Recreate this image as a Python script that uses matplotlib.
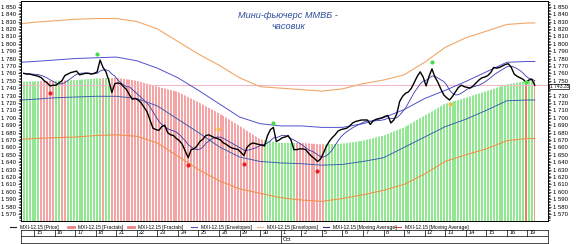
import numpy as np
import pandas as pd
import matplotlib
matplotlib.use("Agg")
import matplotlib.pyplot as plt
from matplotlib.patches import Polygon
from matplotlib.lines import Line2D
from matplotlib.ticker import MultipleLocator, FuncFormatter

plt.rcParams['font.family'] = ['Liberation Sans', 'DejaVu Sans']

# --- данные: часовые бары MXI-12.15 (14.09 - 19.10) ---
price = [
    1760, 1759, 1759, 1758,                          # 14
    1757, 1756, 1754, 1750, 1747, 1743, 1744,        # 15
    1744, 1747, 1750, 1757, 1759, 1761, 1762,        # 16
    1763, 1758, 1759, 1760, 1760, 1759, 1760,        # 17
    1762, 1778, 1768, 1762, 1750, 1734, 1746,        # 18
    1747, 1746, 1742, 1738, 1731, 1725, 1726,        # 21
    1724, 1720, 1714, 1708, 1697, 1686, 1684,        # 22
    1683, 1688, 1690, 1680, 1677, 1676, 1672,        # 23
    1669, 1664, 1655, 1646, 1657, 1658, 1662,        # 24
    1668, 1671, 1676, 1677, 1675, 1673, 1672,        # 25
    1670, 1666, 1664, 1661, 1659, 1658, 1657,        # 28
    1653, 1649, 1660, 1664, 1666, 1665, 1664,        # 29
    1663, 1662, 1676, 1684, 1687, 1668, 1670,        # 30
    1673, 1674, 1676, 1670, 1657, 1657, 1658,        # 1
    1658, 1657, 1652, 1648, 1645, 1641, 1644,        # 2
    1652, 1661, 1668, 1673, 1677, 1682, 1684,        # 5
    1685, 1686, 1689, 1693, 1695, 1696, 1697,        # 6
    1697, 1697, 1691, 1696, 1698, 1699, 1700,        # 7
    1702, 1703, 1693, 1697, 1705, 1722, 1729,        # 8
    1733, 1735, 1740, 1748, 1756, 1762, 1755,        # 9
    1743, 1756, 1766, 1755, 1748, 1739, 1731,        # 12
    1727, 1724, 1729, 1735, 1741, 1744, 1742,        # 13
    1741, 1740, 1743, 1747, 1751, 1754, 1755,        # 14
    1757, 1761, 1768, 1767, 1768, 1770, 1772,        # 15
    1773, 1768, 1759, 1756, 1754, 1752, 1748,        # 16
    1751, 1752, 1744,                                # 19
]

# цвет столбцов (зелёный / красный) сериями
bar_runs = [('g', 6), ('r', 5), ('g', 2), ('r', 2), ('g', 12), ('r', 1), ('g', 2),
            ('r', 52), ('g', 11), ('r', 10), ('g', 68), ('r', 1), ('g', 2), ('r', 1)]

# индикаторы по границам дней
ma_slow = [1749, 1749, 1750, 1751, 1753, 1754, 1750, 1742, 1735, 1721, 1706, 1689, 1671, 1666,
           1666, 1664, 1665, 1669, 1676, 1687, 1703, 1719, 1727, 1736, 1745, 1750, 1751]
env_blue_up = [1775, 1776, 1778, 1780, 1781, 1782, 1777, 1767, 1754, 1737, 1719, 1701, 1692, 1689,
               1689, 1687, 1687, 1692, 1700, 1711, 1726, 1737, 1749, 1762, 1775, 1776, 1776]
env_blue_lo = [1724, 1725, 1727, 1728, 1729, 1729, 1726, 1716, 1698, 1680, 1661, 1647, 1641, 1639,
               1638, 1636, 1637, 1641, 1646, 1660, 1674, 1688, 1698, 1710, 1723, 1724, 1724]
env_orange_up = [1827, 1829, 1831, 1833, 1834, 1834, 1830, 1820, 1803, 1786, 1771, 1754, 1742, 1740,
                 1738, 1736, 1739, 1746, 1751, 1758, 1775, 1795, 1808, 1817, 1826, 1828, 1828]
env_orange_lo = [1671, 1672, 1673, 1674, 1676, 1677, 1675, 1666, 1648, 1630, 1615, 1604, 1598, 1592,
                 1589, 1587, 1591, 1596, 1602, 1610, 1624, 1641, 1650, 1658, 1669, 1672, 1672]

# фракталы: номер бара, уровень
frac_up_idx = [25, 85, 139, 171]
frac_up_val = [1786, 1693, 1775, 1748]
frac_dn_idx = [9, 56, 75, 100]
frac_dn_val = [1733, 1636, 1638, 1628]
frac_y_idx = [66, 145]
frac_y_val = [1685, 1718]

last_price = 1743.35
days = ['15', '16', '17', '18', '21', '22', '23', '24', '25', '28', '29', '30',
        '1', '2', '5', '6', '7', '8', '9', '12', '13', '14', '15', '16', '19']
legend_items = ['MXI-12.15 [Price]', 'MXI-12.15 [Fractals]', 'MXI-12.15 [Fractals]',
                'MXI-12.15 [Envelopes]', 'MXI-12.15 [Envelopes]',
                'MXI-12.15 [Moving Average]', 'MXI-12.15 [Moving Average]']


def fmt(v):
    return f"{int(v):,}".replace(',', ' ')


# --- оси ---
n = len(price)
idx = np.arange(n)
bars_per_day = 7
day_start = 3.5 + bars_per_day * np.arange(len(days))
ind_x = np.concatenate([[-0.9], day_start, [n - 1]])

fig = plt.figure(figsize=(5.8, 2.44), dpi=100)
ax = fig.add_axes([0.0362, 0.0943, 0.9086, 0.9016])
xmin, xmax = -0.93, 178.5
ymin, ymax = 1560.6, 1857.7
ax.set_xlim(xmin, xmax)
ax.set_ylim(ymin, ymax)

# столбцы, обрезанные по медленной средней
colors = []
for c, k in bar_runs:
    colors += [c] * k
bar_col = ['#92e892' if c == 'g' else '#f4a4a4' for c in colors]
bar_col[171] = '#e8805a'
bar_col[174] = '#e8805a'
bars = ax.bar(idx, ymax - ymin, bottom=ymin, width=0.68, color=bar_col, linewidth=0, zorder=1)
verts = [(ind_x[0], ymin)] + list(zip(ind_x, ma_slow)) + [(ind_x[-1], ymin)]
clip = Polygon(verts, closed=True, transform=ax.transData, fc='none', ec='none')
ax.add_patch(clip)
for b in bars:
    b.set_clip_path(clip)

ax.axhline(1744, color='#f4b8c8', lw=0.8, zorder=2)

ax.plot(ind_x, env_orange_up, color='#f0a868', lw=0.8, zorder=3)
ax.plot(ind_x, env_orange_lo, color='#f09050', lw=0.8, zorder=3)
ax.plot(ind_x, env_blue_up, color='#5050d0', lw=0.7, zorder=3)
ax.plot(ind_x, env_blue_lo, color='#4060b0', lw=0.7, zorder=3)

ma_fast = pd.Series(price).rolling(6, min_periods=1).mean()
ax.plot(idx, ma_fast, color='#3838b0', lw=0.6, zorder=4)
ax.plot(idx, price, color='black', lw=1.0, zorder=5)

ax.plot(frac_up_idx, frac_up_val, 'o', color='#44dd44', ms=3, mec='none', zorder=6)
ax.plot(frac_dn_idx, frac_dn_val, 'o', color='#e52020', ms=3, mec='none', zorder=6)
ax.plot(frac_y_idx, frac_y_val, 'o', color='#f0c040', ms=3, mec='none', zorder=6)

# левая шкала
ax.yaxis.set_major_locator(MultipleLocator(10))
ax.yaxis.set_minor_locator(MultipleLocator(2))
ax.yaxis.set_major_formatter(FuncFormatter(lambda v, p: fmt(v)))
ax.tick_params(axis='y', which='both', left=True, right=False, labelleft=True, labelright=False,
               direction='out', labelsize=4.3, pad=1, width=0.5)
ax.tick_params(axis='y', which='major', length=2.5)
ax.tick_params(axis='y', which='minor', length=1.2)
ax.set_xticks([])
for s in ax.spines.values():
    s.set_linewidth(0.6)

# правая шкала (1 740 закрыта плашкой текущей цены)
ax2 = ax.twinx()
ax2.set_ylim(ymin, ymax)
ax2.yaxis.set_major_locator(MultipleLocator(10))
ax2.yaxis.set_minor_locator(MultipleLocator(2))
ax2.yaxis.set_major_formatter(FuncFormatter(lambda v, p: '' if abs(v - 1740) < 1 else fmt(v)))
ax2.tick_params(axis='y', which='both', direction='out', labelsize=4.3, pad=1, width=0.5)
ax2.tick_params(axis='y', which='major', length=2.5)
ax2.tick_params(axis='y', which='minor', length=1.2)
for s in ax2.spines.values():
    s.set_linewidth(0.6)

ax2.text(xmax + 0.6, last_price - 0.8, fmt(last_price) + '.35',
         fontsize=3.6, va='center', ha='left', zorder=7, clip_on=False,
         bbox=dict(boxstyle='square,pad=0.05', fc='white', ec='black', lw=0.5))

fig.text(0.497, 0.915, 'Мини-фьючерс ММВБ -\nчасовик', ha='center', va='center',
         fontsize=6.6, style='italic', color='#2b4c9a', linespacing=1.35)

# --- легенда ---
leg_y = 1 - 227 / 244
leg_style = [('#202020', 0.8), ('#f08080', 2.0), ('#f08080', 2.0), ('#5050d0', 0.8),
             ('#e8c090', 0.8), ('#303080', 0.8), ('#e04040', 0.8)]
leg_x = [10, 68, 128, 191, 257, 323, 395]
for (c, w), x0, label in zip(leg_style, leg_x, legend_items):
    fig.add_artist(Line2D([x0 / 580, (x0 + 6) / 580], [leg_y, leg_y], color=c, lw=w,
                          transform=fig.transFigure))
    fig.text((x0 + 10) / 580, leg_y, label, fontsize=3.6, va='center', ha='left')

# --- шкала дат ---
dax = fig.add_axes([0.0362, 1 - 242.5 / 244, 0.9086, 13 / 244])
dax.set_xlim(xmin, xmax)
dax.set_ylim(0, 2)
dax.set_xticks([])
dax.set_yticks([])
for s in dax.spines.values():
    s.set_linewidth(0.5)
dax.axhline(1, color='black', lw=0.5)
for x, lab in zip(day_start, days):
    dax.plot([x, x], [1, 2], color='black', lw=0.5)
    dax.text(x + 0.8, 1.5, lab, fontsize=4.0, va='center', ha='left')
oct_x = day_start[days.index('1')]
dax.plot([oct_x, oct_x], [0, 1], color='black', lw=0.5)
dax.text(oct_x + 0.8, 0.5, 'Oct', fontsize=4.0, va='center', ha='left')

fig.savefig('out.png', dpi=100)
